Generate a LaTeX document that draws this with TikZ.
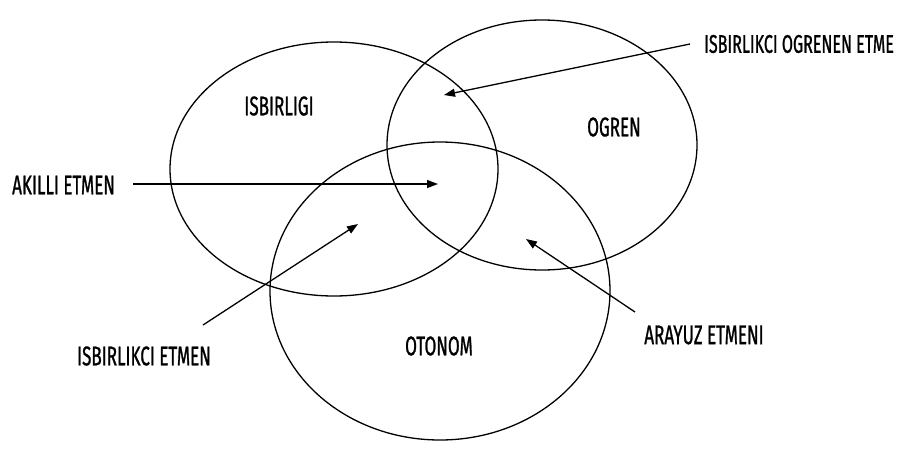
\documentclass[tikz,border=0pt]{standalone}
\usepackage{fontspec}
\newfontfamily\lblfont[FakeStretch=0.63,FakeBold=0.9]{Fira Sans}
\usetikzlibrary{shapes.geometric,arrows.meta}
\begin{document}
\begin{tikzpicture}[x=1pt,y=-1pt,
  venn/.style={draw,ellipse,line width=1.3pt,inner sep=0pt},
  lbl/.style={font=\lblfont\fontsize{27}{27}\selectfont,inner sep=0pt},
  arr/.style={line width=1.3pt,-{Triangle[length=11pt,width=8pt]}}]
\useasboundingbox[fill=white] (0,0) rectangle (901,450);
\node[venn,minimum width=328pt,minimum height=254pt] (e1) at (334,169) {};
\node[venn,minimum width=310pt,minimum height=250pt] (e2) at (542,145) {};
\node[venn,minimum width=340pt,minimum height=298pt] (e3) at (440,291) {};
\node[lbl] (t1) at (279,106) {ISBIRLIGI};
\node[lbl] (t2) at (614,127) {OGREN};
\node[lbl] (t3) at (439,346) {OTONOM};
\node[lbl,anchor=west] (l1) at (12,185) {AKILLI ETMEN};
\node[lbl,anchor=west,font=\lblfont\fontsize{25.5}{26}\selectfont] (l2) at (704,44) {ISBIRLIKCI OGRENEN ETME};
\node[lbl] (l3) at (144,356) {ISBIRLIKCI ETMEN};
\node[lbl] (l4) at (704,335) {ARAYUZ ETMENI};
\coordinate (s1) at (133,184);
\coordinate (a1) at (438,184);
\coordinate (s2) at (690,44);
\coordinate (a2) at (444,95);
\coordinate (s3) at (203,325);
\coordinate (a3) at (358,224);
\coordinate (s4) at (635,312);
\coordinate (a4) at (526,239);
\draw[arr] (s1) -- (a1);
\draw[arr] (s2) -- (a2);
\draw[arr] (s3) -- (a3);
\draw[arr] (s4) -- (a4);
\end{tikzpicture}
\end{document}
